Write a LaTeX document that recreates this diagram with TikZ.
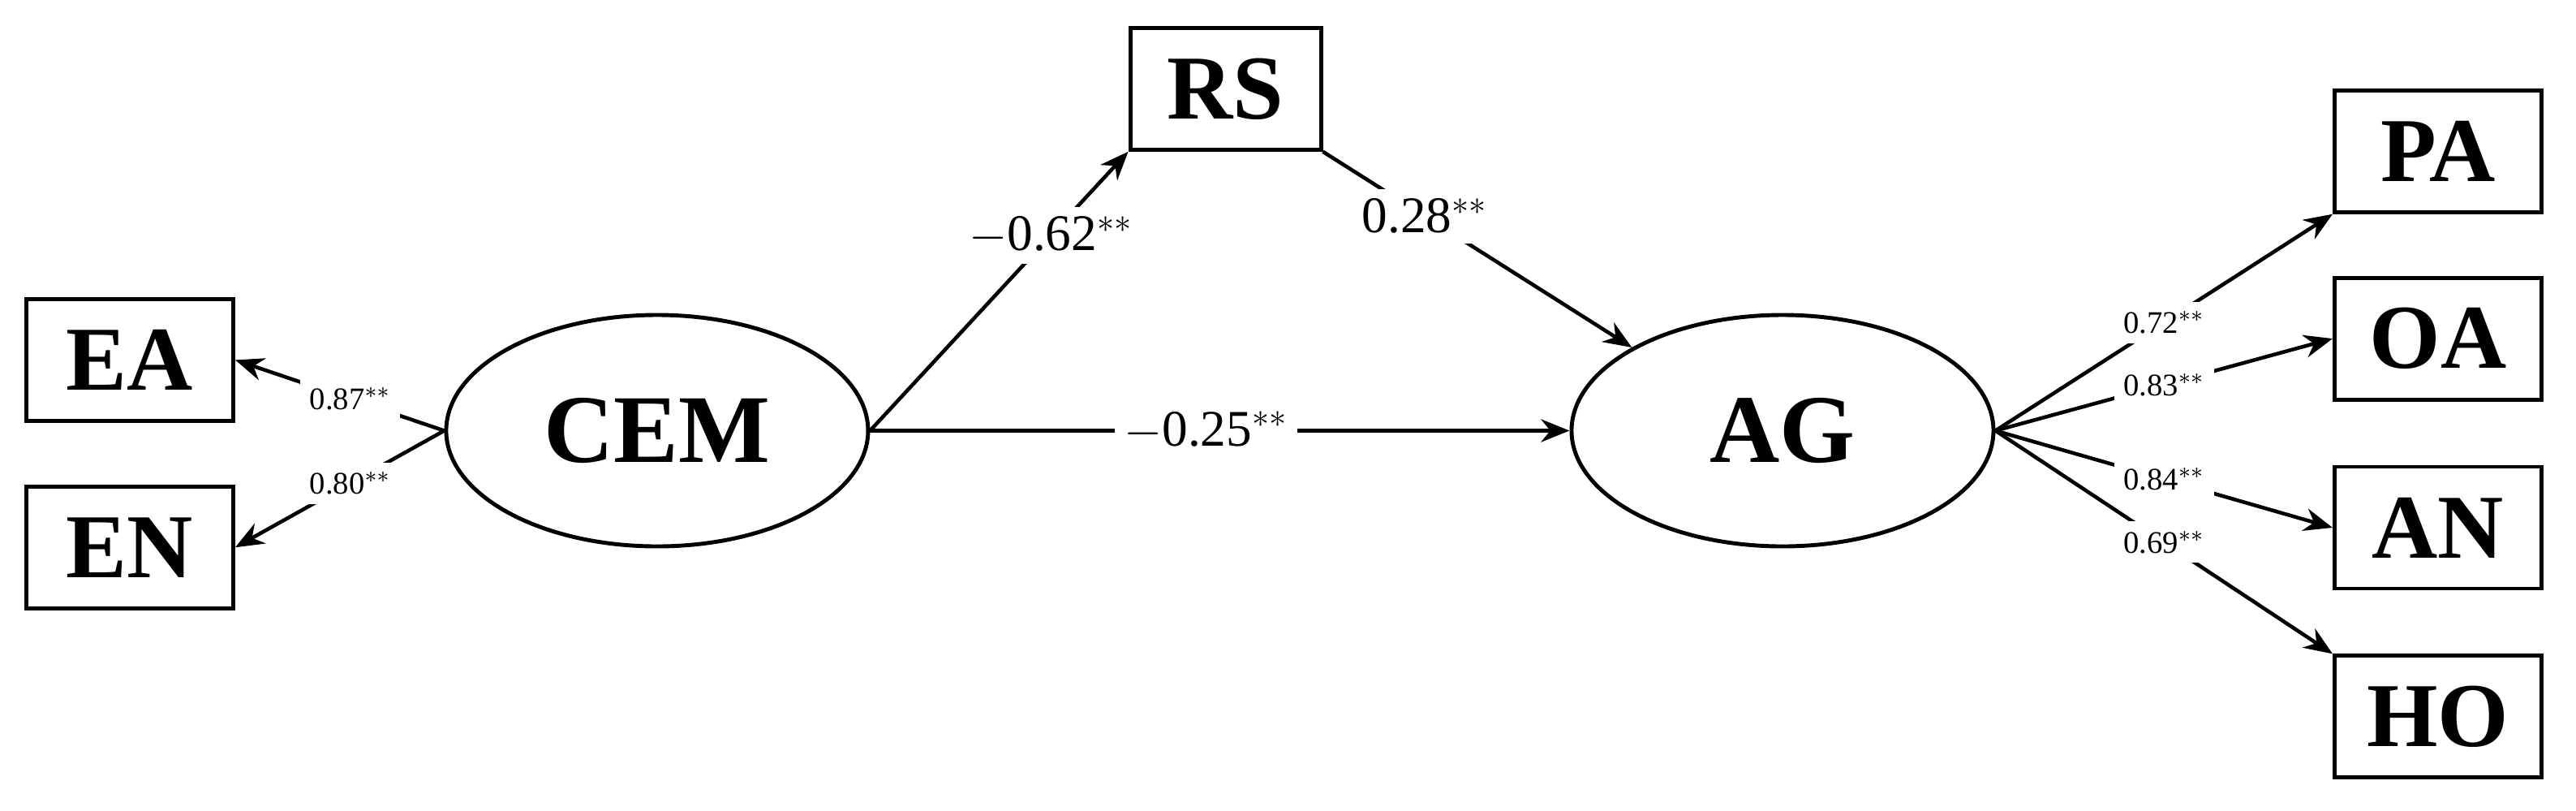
\documentclass[tikz,border=0pt]{standalone}
\usepackage{fontspec}
\setmainfont{Liberation Serif}
\usetikzlibrary{arrows.meta, shapes.geometric}
\begin{document}
\begin{tikzpicture}[x=0.02025cm, y=-0.02025cm,
    % styles
    obs/.style={rectangle, draw, line width=1.4pt, minimum width=2.55cm, minimum height=1.5cm, font=\fontsize{32}{36}\selectfont\bfseries},
    lat/.style={ellipse, draw, line width=1.4pt, minimum width=5.2cm, minimum height=2.85cm, font=\fontsize{34}{38}\selectfont\bfseries},
    path/.style={-{Stealth[length=10pt,width=8pt]}, line width=1.3pt},
    big/.style={fill=white, font=\fontsize{18}{20}\selectfont},
    small/.style={fill=white, font=\fontsize{11}{13}\selectfont}
]
\useasboundingbox (0,0) rectangle (1568,493);

% latent variables
\node[lat] (cem) at (400,262) {CEM};
\node[lat] (ag) at (1085,262) {AG};

% observed variables
\node[obs, minimum width=2.35cm] (rs) at (746,54) {RS};
\node[obs] (ea) at (79,219) {EA};
\node[obs] (en) at (79,333) {EN};
\node[obs] (pa) at (1484,92) {PA};
\node[obs] (oa) at (1484,206) {OA};
\node[obs] (an) at (1484,321) {AN};
\node[obs] (ho) at (1484,436) {HO};

% structural paths
\draw[path] (cem.east) -- node[big, pos=0.7] {$-$0.62$^{**}$} (rs.south west);
\draw[path] (rs.south east) -- node[big, pos=0.33] {0.28$^{**}$} (ag.north west);
\draw[path] (cem.east) -- node[big, pos=0.48] {$-$0.25$^{**}$} (ag.west);

% measurement paths
\draw[path] (cem.west) -- node[small, pos=0.45] {0.87$^{**}$} (ea.east);
\draw[path] (cem.west) -- node[small, pos=0.45] {0.80$^{**}$} (en.east);
\draw[path] (ag.east) -- node[small, pos=0.5] {0.72$^{**}$} (pa.south west);
\draw[path] (ag.east) -- node[small, pos=0.5] {0.83$^{**}$} (oa.west);
\draw[path] (ag.east) -- node[small, pos=0.5] {0.84$^{**}$} (an.west);
\draw[path] (ag.east) -- node[small, pos=0.5] {0.69$^{**}$} (ho.north west);

\end{tikzpicture}
\end{document}
